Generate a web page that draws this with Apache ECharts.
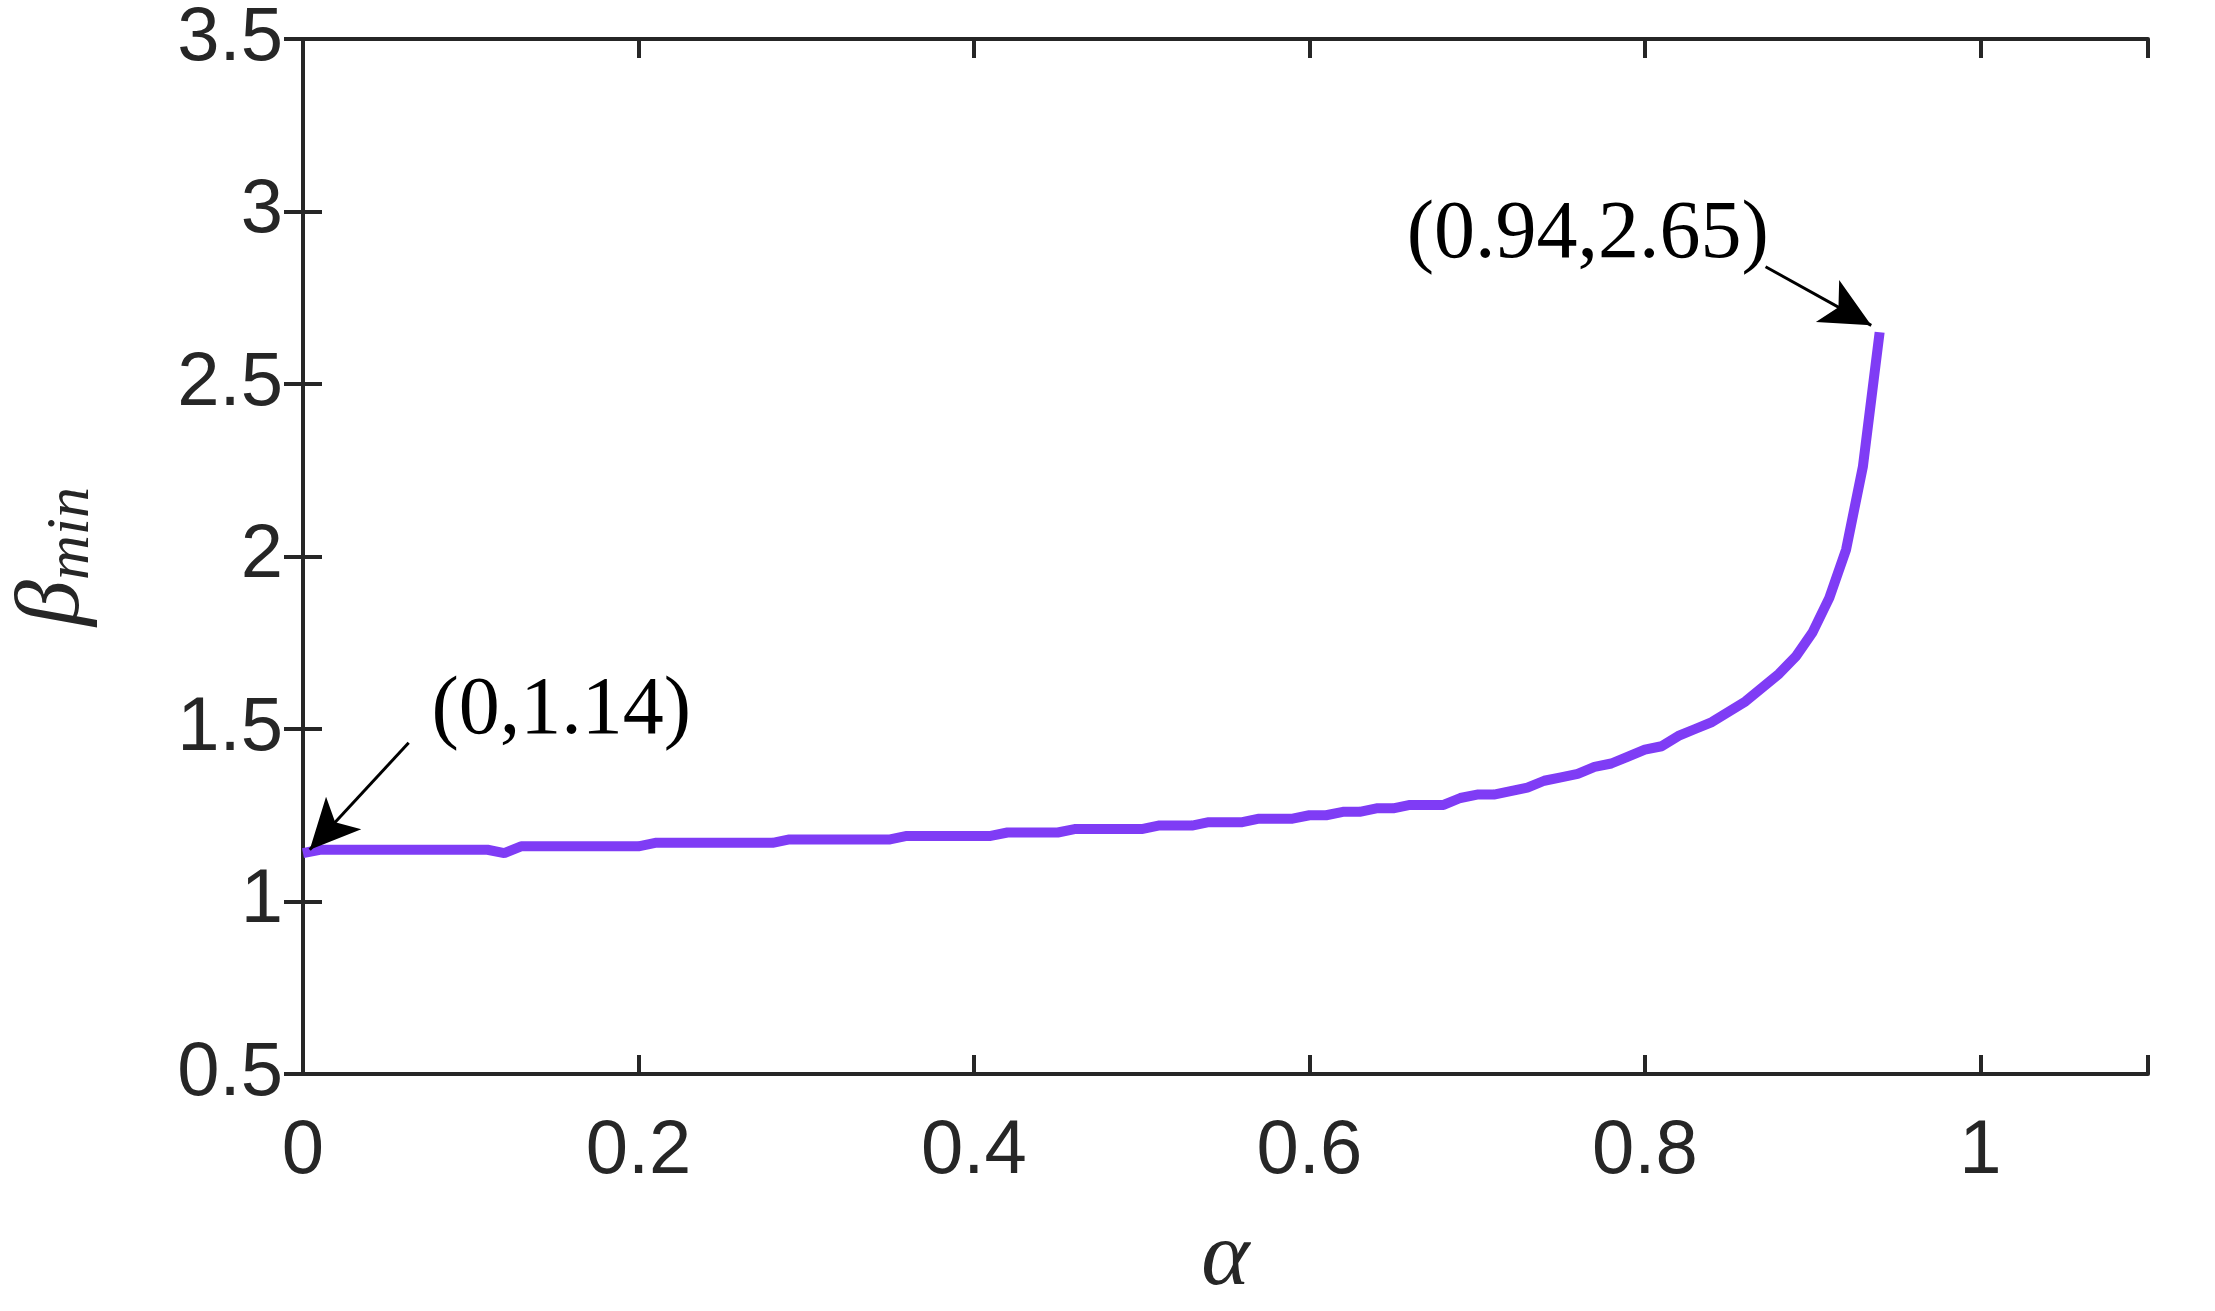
<!DOCTYPE html>
<html>
<head>
<meta charset="utf-8">
<script src="https://cdn.jsdelivr.net/npm/echarts@6/dist/echarts.min.js"></script>
<style>
  html, body { margin: 0; padding: 0; background: #fff; }
  #chart { width: 2215px; height: 1311px; }
</style>
</head>
<body>
<div id="chart"></div>
<script>
// alpha values and beta_min
var alphaValues = [0, 0.01, 0.02, 0.03, 0.04, 0.05, 0.06, 0.07, 0.08, 0.09,
  0.10, 0.11, 0.12, 0.13, 0.14, 0.15, 0.16, 0.17, 0.18, 0.19,
  0.20, 0.21, 0.22, 0.23, 0.24, 0.25, 0.26, 0.27, 0.28, 0.29,
  0.30, 0.31, 0.32, 0.33, 0.34, 0.35, 0.36, 0.37, 0.38, 0.39,
  0.40, 0.41, 0.42, 0.43, 0.44, 0.45, 0.46, 0.47, 0.48, 0.49,
  0.50, 0.51, 0.52, 0.53, 0.54, 0.55, 0.56, 0.57, 0.58, 0.59,
  0.60, 0.61, 0.62, 0.63, 0.64, 0.65, 0.66, 0.67, 0.68, 0.69,
  0.70, 0.71, 0.72, 0.73, 0.74, 0.75, 0.76, 0.77, 0.78, 0.79,
  0.80, 0.81, 0.82, 0.83, 0.84, 0.85, 0.86, 0.87, 0.88, 0.89,
  0.90, 0.91, 0.92, 0.93, 0.94]
var betaMin = [1.14, 1.15, 1.15, 1.15, 1.15, 1.15, 1.15, 1.15, 1.15, 1.15,
  1.15, 1.15, 1.14, 1.16, 1.16, 1.16, 1.16, 1.16, 1.16, 1.16,
  1.16, 1.17, 1.17, 1.17, 1.17, 1.17, 1.17, 1.17, 1.17, 1.18,
  1.18, 1.18, 1.18, 1.18, 1.18, 1.18, 1.19, 1.19, 1.19, 1.19,
  1.19, 1.19, 1.20, 1.20, 1.20, 1.20, 1.21, 1.21, 1.21, 1.21,
  1.21, 1.22, 1.22, 1.22, 1.23, 1.23, 1.23, 1.24, 1.24, 1.24,
  1.25, 1.25, 1.26, 1.26, 1.27, 1.27, 1.28, 1.28, 1.28, 1.30,
  1.31, 1.31, 1.32, 1.33, 1.35, 1.36, 1.37, 1.39, 1.40, 1.42,
  1.44, 1.45, 1.48, 1.50, 1.52, 1.55, 1.58, 1.62, 1.66, 1.71,
  1.78, 1.88, 2.02, 2.26, 2.65]

// annotation texts, positions (data coords) and arrows [from, to]
var noteLabels = ['(0.94,2.65)', '(0,1.14)']
var notePos = [[0.766, 2.93], [0.154, 1.55]]
var noteArrows = [
  [[0.872, 2.84], [0.935, 2.67]],
  [[0.063, 1.46], [0.004, 1.15]]
]

var chartDom = document.getElementById('chart')
var myChart = echarts.init(chartDom)

var tickFont = { fontFamily: 'Liberation Sans', fontSize: 76, color: '#262626' }
var axisLineStyle = { color: '#262626', width: 4 }

var option = {
  backgroundColor: '#fff',
  animation: false,
  grid: { left: 289, right: 67, top: 39, bottom: 192 },
  xAxis: [{
    type: 'value',
    min: 0,
    max: 1.1,
    interval: 0.2,
    name: 'α',
    nameLocation: 'middle',
    nameGap: 140,
    nameTextStyle: { fontFamily: 'Liberation Serif', fontStyle: 'italic', fontSize: 92, color: '#262626' },
    axisLine: { lineStyle: axisLineStyle },
    axisTick: { inside: true, length: 19, lineStyle: axisLineStyle },
    axisLabel: {
      margin: 40,
      formatter: function (v) { return v > 1.05 ? '' : String(+v.toFixed(1)) },
      ...tickFont
    },
    splitLine: { show: false }
  }, {
    type: 'value',
    position: 'top',
    min: 0,
    max: 1.1,
    interval: 0.2,
    axisLine: { lineStyle: axisLineStyle },
    axisTick: { inside: true, length: 19, lineStyle: axisLineStyle },
    axisLabel: { show: false },
    splitLine: { show: false }
  }],
  yAxis: [{
    type: 'value',
    min: 0.5,
    max: 3.5,
    interval: 0.5,
    name: '{b|β}{s|min}',
    nameLocation: 'middle',
    nameGap: 200,
    nameTextStyle: {
      rich: {
        b: { fontFamily: 'Liberation Serif', fontStyle: 'italic', fontSize: 92, color: '#262626' },
        s: { fontFamily: 'Liberation Serif', fontStyle: 'italic', fontSize: 62, color: '#262626', verticalAlign: 'bottom', padding: [36, 0, 0, 0] }
      }
    },
    axisLine: { lineStyle: axisLineStyle },
    axisTick: { inside: true, length: 19, lineStyle: axisLineStyle },
    axisLabel: { margin: 20, ...tickFont },
    splitLine: { show: false }
  }, {
    type: 'value',
    position: 'right',
    min: 0.5,
    max: 3.5,
    interval: 0.5,
    axisLine: { lineStyle: axisLineStyle },
    axisTick: { inside: true, length: 19, lineStyle: axisLineStyle },
    axisLabel: { show: false },
    splitLine: { show: false }
  }],
  series: [{
    type: 'line',
    data: alphaValues.map(function (a, i) { return [a, betaMin[i]] }),
    showSymbol: false,
    lineStyle: { color: '#7f3cf5', width: 10 },
    markLine: {
      silent: true,
      symbol: ['none', 'arrow'],
      symbolSize: [36, 50],
      lineStyle: { color: '#000', width: 3, type: 'solid' },
      label: { show: false },
      data: noteArrows.map(function (a) { return [{ coord: a[0] }, { coord: a[1] }] })
    },
    markPoint: {
      silent: true,
      symbol: 'circle',
      symbolSize: 0,
      label: {
        show: true,
        position: 'inside',
        fontFamily: 'Liberation Serif',
        fontSize: 82,
        color: '#000',
        formatter: function (p) { return p.name }
      },
      data: noteLabels.map(function (t, i) { return { name: t, coord: notePos[i] } })
    }
  }]
}

option && myChart.setOption(option)
</script>
</body>
</html>
